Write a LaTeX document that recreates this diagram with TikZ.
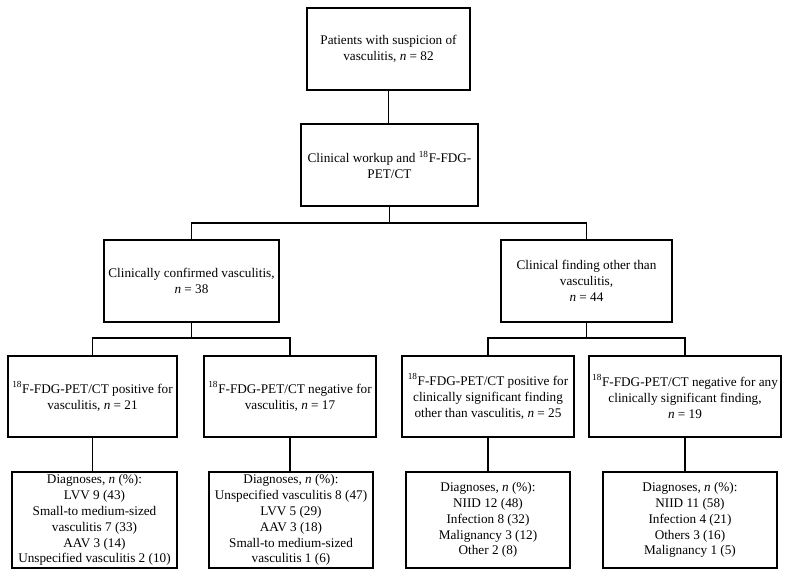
\documentclass[tikz,border=0pt]{standalone}
\usepackage{fontspec}
\setmainfont{Liberation Serif}
\usetikzlibrary{positioning}
\tikzset{flowbox/.style={draw, line width=0.045cm, align=center, inner sep=0.05cm,
	font=\fontsize{9.4}{11.3}\selectfont},
	flowline/.style={line width=0.045cm}}
\newcommand{\nval}{\textit{n}}
\newcommand{\fdg}{\textsuperscript{18}F-FDG}

\begin{document}
\begin{tikzpicture}
                        \useasboundingbox (0.000000,0.000000) rectangle (19.750000,14.425000);

                        % Drawing top boxes
                        \node [flowbox, minimum width=4.075cm, minimum height=2.050cm] (suspicion) at (9.712500,13.200000) {Patients with suspicion of\\ vasculitis, \nval{} = 82};%
                        \node [flowbox, minimum width=4.425cm, minimum height=2.050cm] (workup) at (9.737500,10.300000) {Clinical workup and \fdg-\\ PET/CT};%

                        % Drawing second level boxes
                        \node [flowbox, minimum width=4.375cm, minimum height=2.050cm] (confirmed) at (4.787500,7.400000) {Clinically confirmed vasculitis,\\ \nval{} = 38};%
                        \node [flowbox, minimum width=4.275cm, minimum height=2.050cm] (other) at (14.662500,7.400000) {Clinical finding other than\\ vasculitis,\\ \nval{} = 44};%

                        % Drawing PET/CT boxes
                        \node [flowbox, minimum width=4.225cm, minimum height=2.025cm] (vpos) at (2.312500,4.512500) {\fdg-PET/CT positive for\\ vasculitis, \nval{} = 21};%
                        \node [flowbox, minimum width=4.300cm, minimum height=2.025cm] (vneg) at (7.250000,4.512500) {\fdg-PET/CT negative for\\ vasculitis, \nval{} = 17};%
                        \node [flowbox, minimum width=4.300cm, minimum height=2.025cm] (opos) at (12.200000,4.512500) {\fdg-PET/CT positive for\\ clinically significant finding\\ other than vasculitis, \nval{} = 25};%
                        \node [flowbox, minimum width=4.800cm, minimum height=2.025cm] (oneg) at (17.125000,4.512500) {\fdg-PET/CT negative for any\\ clinically significant finding,\\ \nval{} = 19};%

                        % Drawing diagnoses boxes
                        \node [flowbox, minimum width=4.125cm, minimum height=2.400cm] (vposdx) at (2.362500,1.425000) {Diagnoses, \nval{} (\%):\\ LVV 9 (43)\\ Small-to medium-sized\\ vasculitis 7 (33)\\ AAV 3 (14)\\ Unspecified vasculitis 2 (10)};%
                        \node [flowbox, minimum width=4.100cm, minimum height=2.400cm] (vnegdx) at (7.275000,1.425000) {Diagnoses, \nval{} (\%):\\ Unspecified vasculitis 8 (47)\\ LVV 5 (29)\\ AAV 3 (18)\\ Small-to medium-sized\\ vasculitis 1 (6)};%
                        \node [flowbox, minimum width=4.100cm, minimum height=2.400cm] (oposdx) at (12.200000,1.425000) {Diagnoses, \nval{} (\%):\\ NIID 12 (48)\\ Infection 8 (32)\\ Malignancy 3 (12)\\ Other 2 (8)};%
                        \node [flowbox, minimum width=4.350cm, minimum height=2.400cm] (onegdx) at (17.250000,1.425000) {Diagnoses, \nval{} (\%):\\ NIID 11 (58)\\ Infection 4 (21)\\ Others 3 (16)\\ Malignancy 1 (5)};%

                        % Junction points
                        \coordinate (split) at (9.737500,8.850000);%
                        \coordinate (vsplit) at (4.787500,5.975000);%
                        \coordinate (osplit) at (14.662500,5.975000);%

                        % Drawing connectors
                        \draw [flowline] (suspicion.south) -- (suspicion.south |- workup.north);%
                        \draw [flowline] (workup.south) -- (split);%
                        \draw [flowline] (confirmed.north) |- (split) -| (other.north);%
                        \draw [flowline] (confirmed.south) -- (vsplit);%
                        \draw [flowline] (vpos.north) |- (vsplit) -| (vneg.north);%
                        \draw [flowline] (other.south) -- (osplit);%
                        \draw [flowline] (opos.north) |- (osplit) -| (oneg.north);%
                        \draw [flowline] (vpos.south) -- (vpos.south |- vposdx.north);%
                        \draw [flowline] (vneg.south) -- (vneg.south |- vnegdx.north);%
                        \draw [flowline] (opos.south) -- (opos.south |- oposdx.north);%
                        \draw [flowline] (oneg.south) -- (oneg.south |- onegdx.north);%
                    \end{tikzpicture}
\end{document}
